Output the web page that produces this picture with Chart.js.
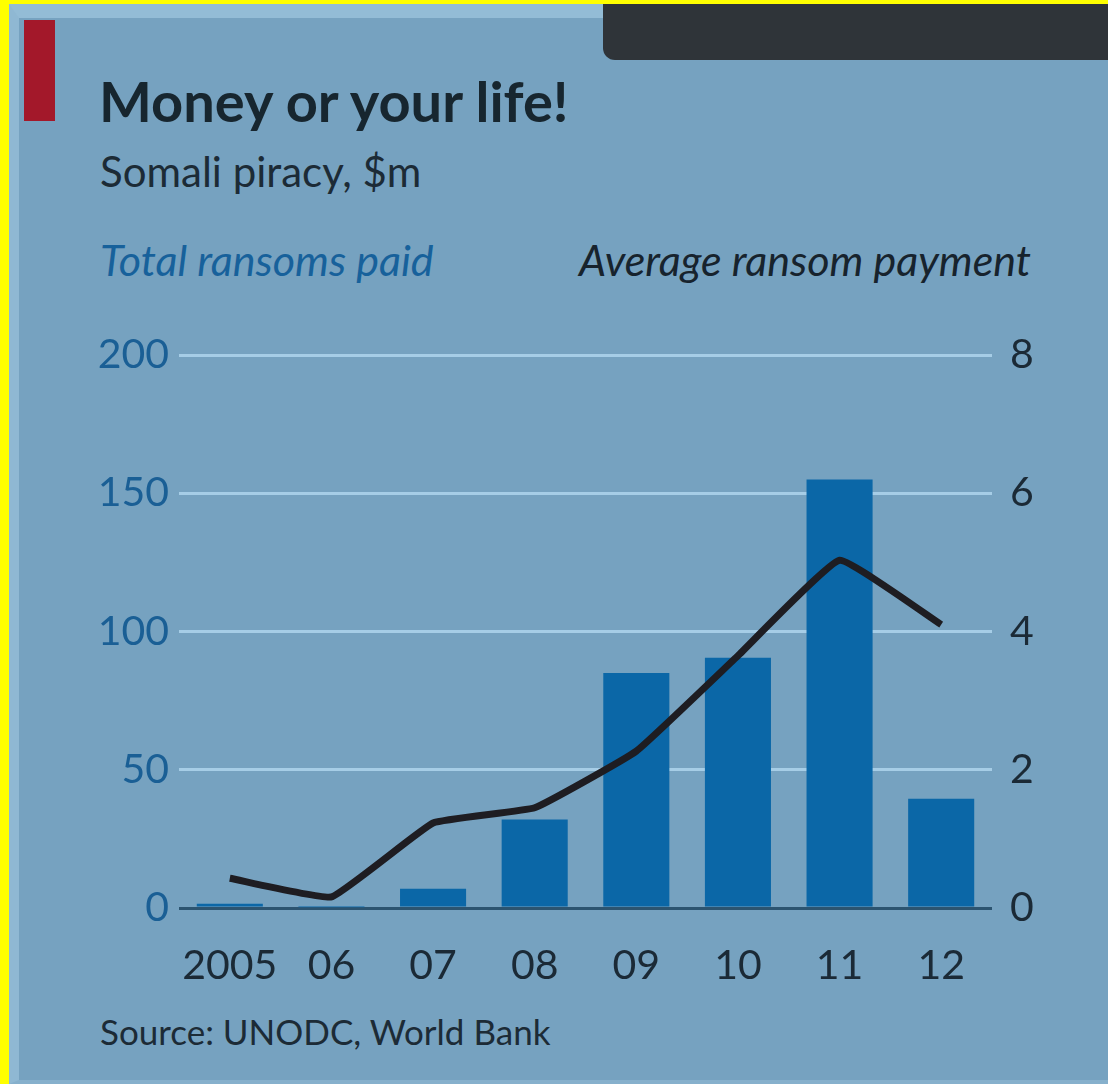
<!DOCTYPE html>
<html>
<head>
<meta charset="utf-8">
<script src="https://cdn.jsdelivr.net/npm/chart.js@4.4.1/dist/chart.umd.min.js"></script>
<style>
  html, body { margin: 0; padding: 0; }
  body { width: 1108px; height: 1084px; background: #ffff00; position: relative; overflow: hidden; font-family: "Lato", sans-serif; }
  #panel { position: absolute; left: 9px; top: 4px; right: 0; bottom: 0; background: #76a2c0; border-top: 14px solid #93bcd6; border-left: 10px solid #8fb8d3; border-bottom: 4px solid #86b0cc; box-sizing: border-box; }
  #tab { position: absolute; left: 603px; top: 4px; width: 505px; height: 56px; background: #2f3439; border-bottom-left-radius: 12px; }
  #red { position: absolute; left: 24px; top: 20px; width: 31px; height: 101px; background: #a3182a; }
  .t { position: absolute; white-space: nowrap; line-height: normal; }
  #title { left: 99px; top: 67px; font-size: 56px; font-weight: 700; color: #17262f; }
  #sub { left: 100px; top: 146px; font-size: 42px; color: #1c2b36; }
  #lefth { left: 100px; top: 234px; font-size: 43px; font-style: italic; color: #17619b; }
  #righth { right: 77px; top: 234px; font-size: 43px; font-style: italic; color: #17232d; }
  #src { left: 100px; top: 1010px; font-size: 35px; color: #1c2b36; }
  #wrap { position: absolute; left: 0; top: 0; width: 1108px; height: 1084px; }
</style>
</head>
<body>
<div id="panel"></div>
<div id="tab"></div>
<div id="red"></div>
<div class="t" id="title">Money or your life!</div>
<div class="t" id="sub">Somali piracy, $m</div>
<div class="t" id="lefth">Total ransoms paid</div>
<div class="t" id="righth">Average ransom payment</div>
<div class="t" id="src">Source: UNODC, World Bank</div>
<div id="wrap"><canvas id="c" width="1108" height="1084"></canvas></div>
<script>
const categories = ["2005", "06", "07", "08", "09", "10", "11", "12"];
const totalRansoms = [1.5, 0.3, 7, 32, 85, 90.5, 155, 39.5];
const averageRansom = [0.43, 0.16, 1.23, 1.45, 2.27, 3.65, 5.03, 4.1];
const leftTicks = [0, 50, 100, 150, 200];
const rightTicks = [0, 2, 4, 6, 8];

const ctx = document.getElementById('c').getContext('2d');
new Chart(ctx, {
  data: {
    labels: categories,
    datasets: [
      {
        type: 'line',
        label: 'Average ransom payment',
        data: averageRansom,
        yAxisID: 'y1',
        borderColor: '#1e1d22',
        borderWidth: 7,
        pointRadius: 0,
        tension: 0.1,
        borderJoinStyle: 'round',
        borderCapStyle: 'butt',
        order: 0
      },
      {
        type: 'bar',
        label: 'Total ransoms paid',
        data: totalRansoms,
        yAxisID: 'y',
        backgroundColor: '#0b67a7',
        barPercentage: 0.65,
        categoryPercentage: 1.0,
        order: 1
      }
    ]
  },
  options: {
    responsive: false,
    animation: false,
    devicePixelRatio: 1,
    layout: { padding: { top: 355, left: 0, right: 0, bottom: 0 } },
    plugins: { legend: { display: false }, tooltip: { enabled: false }, title: { display: false } },
    scales: {
      x: {
        type: 'category',
        grid: { display: false, drawTicks: false },
        border: { display: false },
        ticks: { color: '#1b2a36', font: { family: 'Lato', size: 41 }, padding: 33, maxRotation: 0, autoSkip: false },
        afterFit: (s) => { s.height = 176; }
      },
      y: {
        position: 'left',
        min: 0, max: 200,
        afterBuildTicks: (s) => { s.ticks = leftTicks.map(v => ({ value: v })); },
        grid: {
          drawTicks: false,
          lineWidth: 3,
          color: (c) => c.tick && c.tick.value === 0 ? '#2c5470' : '#a6cde6'
        },
        border: { display: false },
        ticks: { color: '#1a5f95', font: { family: 'Lato', size: 41 }, padding: 10 },
        afterFit: (s) => { s.width = 179; }
      },
      y1: {
        position: 'right',
        min: 0, max: 8,
        afterBuildTicks: (s) => { s.ticks = rightTicks.map(v => ({ value: v })); },
        grid: { display: false, drawTicks: false },
        border: { display: false },
        ticks: { color: '#1b2a36', font: { family: 'Lato', size: 41 }, padding: 18 },
        afterFit: (s) => { s.width = 116; }
      }
    }
  }
});
</script>
</body>
</html>
